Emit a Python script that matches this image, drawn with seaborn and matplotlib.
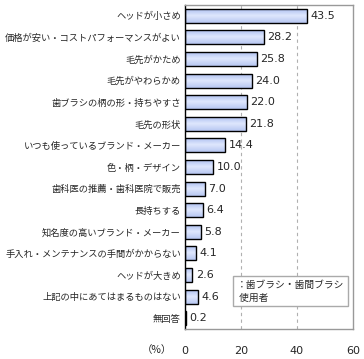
import numpy as np
import pandas as pd
import matplotlib
matplotlib.use('Agg')
import matplotlib.pyplot as plt
import seaborn as sns
from matplotlib.colors import LinearSegmentedColormap

categories = [
    'ヘッドが小さめ',
    '価格が安い・コストパフォーマンスがよい',
    '毛先がかため',
    '毛先がやわらかめ',
    '歯ブラシの柄の形・持ちやすさ',
    '毛先の形状',
    'いつも使っているブランド・メーカー',
    '色・柄・デザイン',
    '歯科医の推薦・歯科医院で販売',
    '長持ちする',
    '知名度の高いブランド・メーカー',
    '手入れ・メンテナンスの手間がかからない',
    'ヘッドが大きめ',
    '上記の中にあてはまるものはない',
    '無回答',
]
values = [43.5, 28.2, 25.8, 24.0, 22.0, 21.8, 14.4, 10.0, 7.0, 6.4, 5.8, 4.1, 2.6, 4.6, 0.2]
x_ticks = [0, 20, 40, 60]

data = pd.DataFrame({'item': categories, 'pct': values})

sns.set_style('white')
plt.rcParams['font.family'] = ['Noto Sans CJK JP', 'DejaVu Sans']

fig = plt.figure(figsize=(3.64, 3.59), dpi=100)
ax = fig.add_axes([185 / 364, 1 - 329 / 359, 168 / 364, 324 / 359])

sns.barplot(data=data, x='pct', y='item', orient='h', color='#c4d2f6',
            edgecolor='black', linewidth=1.0, width=0.65, ax=ax)

# gradient fill on each bar
grad = LinearSegmentedColormap.from_list('g', ['#a9bcef', '#dfe7fd', '#b7c7f2'])
gimg = np.linspace(0, 1, 50).reshape(-1, 1)
for p in ax.patches:
    x0, y0 = p.get_x(), p.get_y()
    w, h = p.get_width(), p.get_height()
    im = ax.imshow(gimg, cmap=grad, aspect='auto', extent=(x0, x0 + w, y0 + h, y0),
                   zorder=p.get_zorder() - 0.1, interpolation='bilinear')
    im.set_clip_path(p)
    p.set_facecolor('none')

for i, v in enumerate(values):
    ax.text(v + 1.2, i, f'{v:.1f}', va='center', ha='left', fontsize=8,
            family=['DejaVu Sans'])

ax.set_xlim(0, 60)
ax.set_ylim(len(categories) - 0.5, -0.5)
ax.set_xticks(x_ticks)
ax.set_xticklabels([str(t) for t in x_ticks], fontsize=8, family=['DejaVu Sans'])
ax.tick_params(axis='x', length=0, pad=12)
ax.set_yticks(range(len(categories)))
ax.set_yticklabels(categories, fontsize=6.7)
ax.tick_params(axis='y', length=0, pad=3)
ax.set_yticks(np.arange(-0.5, len(categories), 1), minor=True)
ax.tick_params(axis='y', which='minor', direction='in', length=3, width=1, color='black')
ax.set_xlabel('')
ax.set_ylabel('')

for gx in [20, 40]:
    ax.axvline(gx, color='#b0b0b0', linestyle=(0, (3, 3)), linewidth=0.8, zorder=0)

for side in ['top', 'right', 'bottom']:
    ax.spines[side].set_color('#999999')
    ax.spines[side].set_linewidth(1)
ax.spines['left'].set_color('black')
ax.spines['left'].set_linewidth(1)

ax.text(-0.08, -0.065, '（%）', transform=ax.transAxes, ha='right', va='center', fontsize=7.5)

ax.text(0.31, 0.152, '：歯ブラシ・歯間ブラシ\n 使用者', transform=ax.transAxes,
        ha='left', va='top', fontsize=7, linespacing=1.35,
        bbox=dict(boxstyle='square,pad=0.4', facecolor='white', edgecolor='#aaaaaa', linewidth=1))

fig.savefig('out.png', dpi=100)
